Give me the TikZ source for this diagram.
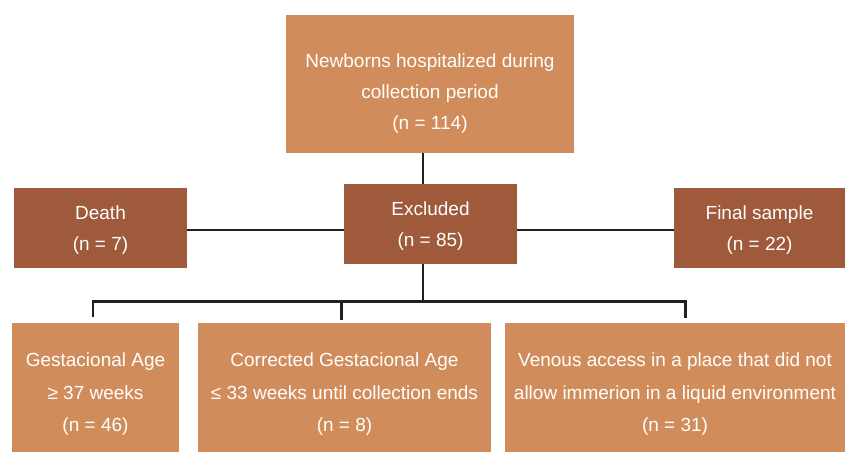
\documentclass[tikz,border=0pt]{standalone}
\usepackage{fontspec}
\setmainfont{Liberation Sans}
\definecolor{lightbox}{HTML}{D08C5A}
\definecolor{darkbox}{HTML}{9E5A3A}
\definecolor{linec}{HTML}{231F20}
\begin{document}
\begin{tikzpicture}[x=1pt,y=-1pt,
  boxbase/.style={inner sep=0pt},
  lightb/.style={boxbase, fill=lightbox},
  darkb/.style={boxbase, fill=darkbox},
  txt/.style={inner sep=0pt, align=center, text=white, font=\fontsize{19}{31}\selectfont},
  txtb/.style={txt, font=\fontsize{19}{32.5}\selectfont},
  conn/.style={draw=linec, line width=2.3pt}]
\useasboundingbox (0,0) rectangle (845,455);
\node[lightb, minimum width=288pt, minimum height=138pt] (top) at (430,84) {};
\node[darkb, minimum width=173pt, minimum height=80pt] (death) at (100.5,228) {};
\node[darkb, minimum width=173pt, minimum height=80pt] (excl) at (430.5,224) {};
\node[darkb, minimum width=171pt, minimum height=80pt] (final) at (759.5,228) {};
\node[lightb, minimum width=167pt, minimum height=129pt] (ga) at (95.5,387.5) {};
\node[lightb, minimum width=293pt, minimum height=129pt] (cga) at (344.5,387.5) {};
\node[lightb, minimum width=340pt, minimum height=129pt] (ven) at (675,387.5) {};
\node[txt] (toptxt) at ([yshift=-10pt]top.center) {Newborns hospitalized during\\collection period\\(n = 114)};
\node[txt] (deathtxt) at ([yshift=-2pt]death.center) {Death\\(n = 7)};
\node[txt] (excltxt) at ([yshift=-2pt]excl.center) {Excluded\\(n = 85)};
\node[txt] (finaltxt) at ([yshift=-2pt]final.center) {Final sample\\(n = 22)};
\node[txtb] (gatxt) at ([yshift=-7pt]ga.center) {Gestacional Age\\≥ 37 weeks\\(n = 46)};
\node[txtb] (cgatxt) at ([yshift=-7pt]cga.center) {Corrected Gestacional Age\\≤ 33 weeks until collection ends\\(n = 8)};
\node[txtb] (ventxt) at ([yshift=-7pt]ven.center) {Venous access in a place that did not\\allow immerion in a liquid environment\\(n = 31)};
\coordinate (trunk) at (423,0);
\coordinate (bus) at (0,301.5);
\coordinate (dl) at (93,316.5);
\coordinate (dm) at (341.5,320);
\coordinate (dr) at (685.5,317.5);
\draw[conn] (top.south -| trunk) -- (excl.north -| trunk);
\draw[conn] (death.east |- 0,230) -- (excl.west |- 0,230);
\draw[conn] (excl.east |- 0,230) -- (final.west |- 0,230);
\draw[conn] (excl.south -| trunk) -- (bus -| trunk);
\draw[conn] (dl) -- (bus -| dl) -- (bus -| dr) -- (dr);
\draw[conn] (dm) -- (bus -| dm);
\end{tikzpicture}
\end{document}
